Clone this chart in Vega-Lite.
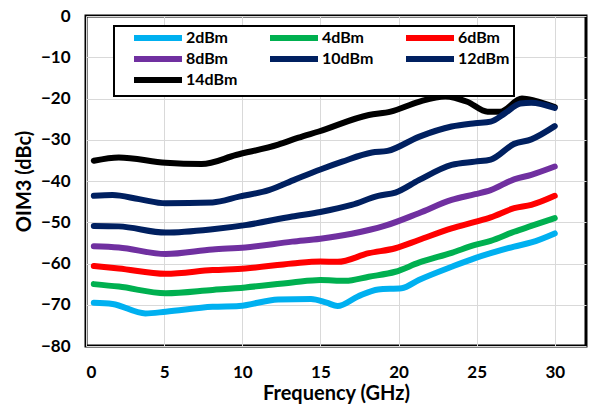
{
  "$schema": "https://vega.github.io/schema/vega-lite/v6.json",
  "width": 500,
  "height": 330,
  "autosize": "none",
  "padding": {"left": 86, "top": 16, "right": 3, "bottom": 64},
  "background": "white",
  "config": {
    "view": {"stroke": "black", "strokeWidth": 3},
    "font": "Lato",
    "axis": {"labelFont": "Lato", "labelFontWeight": "bold", "labelFontSize": 17, "labelColor": "black", "titleFont": "Lato", "titleFontWeight": "bold", "titleFontSize": 20, "titleColor": "black", "gridColor": "#d9d9d9", "gridWidth": 1, "domain": false},
    "legend": {"strokeWidth": 2}
  },
  "data": {"values": [
    {"s": "14dBm", "f": 0.5, "v": -35.1}, {"s": "14dBm", "f": 2.1, "v": -34.3}, {"s": "14dBm", "f": 5.1, "v": -35.6}, {"s": "14dBm", "f": 7.4, "v": -35.9}, {"s": "14dBm", "f": 9.6, "v": -33.7}, {"s": "14dBm", "f": 12.3, "v": -31.2}, {"s": "14dBm", "f": 13.6, "v": -29.5}, {"s": "14dBm", "f": 14.9, "v": -28.0}, {"s": "14dBm", "f": 18.1, "v": -24.0}, {"s": "14dBm", "f": 19.5, "v": -23.2}, {"s": "14dBm", "f": 21.3, "v": -20.8}, {"s": "14dBm", "f": 23.0, "v": -19.5}, {"s": "14dBm", "f": 24.4, "v": -20.8}, {"s": "14dBm", "f": 25.7, "v": -23.2}, {"s": "14dBm", "f": 26.5, "v": -23.2}, {"s": "14dBm", "f": 27.9, "v": -20.0}, {"s": "14dBm", "f": 28.7, "v": -20.5}, {"s": "14dBm", "f": 30.0, "v": -22.1},
    {"s": "12dBm", "f": 0.5, "v": -43.6}, {"s": "12dBm", "f": 1.7, "v": -43.4}, {"s": "12dBm", "f": 3.4, "v": -44.4}, {"s": "12dBm", "f": 5.1, "v": -45.4}, {"s": "12dBm", "f": 8.1, "v": -45.2}, {"s": "12dBm", "f": 9.8, "v": -43.8}, {"s": "12dBm", "f": 11.7, "v": -42.2}, {"s": "12dBm", "f": 13.4, "v": -39.6}, {"s": "12dBm", "f": 15.0, "v": -37.2}, {"s": "12dBm", "f": 16.4, "v": -35.3}, {"s": "12dBm", "f": 18.3, "v": -33.1}, {"s": "12dBm", "f": 19.3, "v": -32.7}, {"s": "12dBm", "f": 21.3, "v": -29.3}, {"s": "12dBm", "f": 23.4, "v": -26.8}, {"s": "12dBm", "f": 24.9, "v": -26.0}, {"s": "12dBm", "f": 25.9, "v": -25.6}, {"s": "12dBm", "f": 26.8, "v": -23.6}, {"s": "12dBm", "f": 27.8, "v": -21.2}, {"s": "12dBm", "f": 28.5, "v": -21.0}, {"s": "12dBm", "f": 30.0, "v": -22.3},
    {"s": "10dBm", "f": 0.5, "v": -50.9}, {"s": "10dBm", "f": 2.1, "v": -51.0}, {"s": "10dBm", "f": 5.1, "v": -52.5}, {"s": "10dBm", "f": 8.1, "v": -51.7}, {"s": "10dBm", "f": 10.2, "v": -50.7}, {"s": "10dBm", "f": 13.2, "v": -48.6}, {"s": "10dBm", "f": 15.0, "v": -47.5}, {"s": "10dBm", "f": 17.0, "v": -45.8}, {"s": "10dBm", "f": 18.7, "v": -43.6}, {"s": "10dBm", "f": 19.8, "v": -42.8}, {"s": "10dBm", "f": 21.3, "v": -39.8}, {"s": "10dBm", "f": 23.4, "v": -36.1}, {"s": "10dBm", "f": 24.9, "v": -35.3}, {"s": "10dBm", "f": 25.9, "v": -34.8}, {"s": "10dBm", "f": 27.4, "v": -31.0}, {"s": "10dBm", "f": 28.5, "v": -29.9}, {"s": "10dBm", "f": 30.0, "v": -26.7},
    {"s": "8dBm", "f": 0.5, "v": -55.8}, {"s": "8dBm", "f": 2.1, "v": -56.1}, {"s": "8dBm", "f": 5.1, "v": -57.7}, {"s": "8dBm", "f": 8.1, "v": -56.6}, {"s": "8dBm", "f": 10.2, "v": -56.1}, {"s": "8dBm", "f": 13.2, "v": -54.7}, {"s": "8dBm", "f": 15.0, "v": -54.0}, {"s": "8dBm", "f": 17.0, "v": -52.8}, {"s": "8dBm", "f": 19.1, "v": -50.9}, {"s": "8dBm", "f": 21.3, "v": -47.8}, {"s": "8dBm", "f": 23.4, "v": -44.6}, {"s": "8dBm", "f": 24.9, "v": -43.2}, {"s": "8dBm", "f": 25.9, "v": -42.2}, {"s": "8dBm", "f": 27.4, "v": -39.6}, {"s": "8dBm", "f": 28.5, "v": -38.5}, {"s": "8dBm", "f": 30.0, "v": -36.5},
    {"s": "6dBm", "f": 0.5, "v": -60.6}, {"s": "6dBm", "f": 2.1, "v": -61.2}, {"s": "6dBm", "f": 5.1, "v": -62.5}, {"s": "6dBm", "f": 8.1, "v": -61.6}, {"s": "6dBm", "f": 10.2, "v": -61.2}, {"s": "6dBm", "f": 13.2, "v": -60.0}, {"s": "6dBm", "f": 15.0, "v": -59.5}, {"s": "6dBm", "f": 16.1, "v": -59.6}, {"s": "6dBm", "f": 18.1, "v": -57.5}, {"s": "6dBm", "f": 19.8, "v": -56.3}, {"s": "6dBm", "f": 21.3, "v": -54.3}, {"s": "6dBm", "f": 23.4, "v": -51.5}, {"s": "6dBm", "f": 24.9, "v": -49.9}, {"s": "6dBm", "f": 25.9, "v": -48.8}, {"s": "6dBm", "f": 27.4, "v": -46.6}, {"s": "6dBm", "f": 28.5, "v": -45.8}, {"s": "6dBm", "f": 30.0, "v": -43.6},
    {"s": "4dBm", "f": 0.5, "v": -65.0}, {"s": "4dBm", "f": 2.1, "v": -65.6}, {"s": "4dBm", "f": 5.1, "v": -67.2}, {"s": "4dBm", "f": 8.1, "v": -66.4}, {"s": "4dBm", "f": 10.2, "v": -65.8}, {"s": "4dBm", "f": 13.2, "v": -64.6}, {"s": "4dBm", "f": 15.0, "v": -64.0}, {"s": "4dBm", "f": 16.6, "v": -64.2}, {"s": "4dBm", "f": 18.1, "v": -63.2}, {"s": "4dBm", "f": 19.8, "v": -62.0}, {"s": "4dBm", "f": 21.3, "v": -59.8}, {"s": "4dBm", "f": 23.4, "v": -57.4}, {"s": "4dBm", "f": 24.9, "v": -55.5}, {"s": "4dBm", "f": 25.9, "v": -54.5}, {"s": "4dBm", "f": 27.4, "v": -52.3}, {"s": "4dBm", "f": 28.5, "v": -50.9}, {"s": "4dBm", "f": 30.0, "v": -49.0},
    {"s": "2dBm", "f": 0.5, "v": -69.5}, {"s": "2dBm", "f": 1.7, "v": -69.8}, {"s": "2dBm", "f": 3.8, "v": -72.1}, {"s": "2dBm", "f": 5.1, "v": -71.7}, {"s": "2dBm", "f": 8.1, "v": -70.5}, {"s": "2dBm", "f": 9.8, "v": -70.3}, {"s": "2dBm", "f": 12.3, "v": -68.7}, {"s": "2dBm", "f": 14.4, "v": -68.6}, {"s": "2dBm", "f": 15.4, "v": -69.5}, {"s": "2dBm", "f": 16.1, "v": -70.3}, {"s": "2dBm", "f": 17.4, "v": -68.0}, {"s": "2dBm", "f": 18.7, "v": -66.3}, {"s": "2dBm", "f": 20.2, "v": -66.0}, {"s": "2dBm", "f": 21.3, "v": -64.0}, {"s": "2dBm", "f": 23.4, "v": -60.8}, {"s": "2dBm", "f": 24.9, "v": -58.7}, {"s": "2dBm", "f": 25.9, "v": -57.5}, {"s": "2dBm", "f": 27.4, "v": -55.9}, {"s": "2dBm", "f": 28.5, "v": -54.9}, {"s": "2dBm", "f": 30.0, "v": -52.7}
  ]},
  "mark": {"type": "line", "interpolate": "monotone", "strokeWidth": 6, "strokeCap": "round", "strokeJoin": "round"},
  "encoding": {
    "x": {"field": "f", "type": "quantitative", "title": "Frequency (GHz)", "scale": {"domain": [0, 32], "nice": false, "zero": false},
      "axis": {"values": [0, 5, 10, 15, 20, 25, 30], "ticks": false, "labelPadding": 18, "titlePadding": 3}},
    "y": {"field": "v", "type": "quantitative", "title": "OIM3 (dBc)", "scale": {"domain": [-80, 0], "nice": false},
      "axis": {"values": [-80, -70, -60, -50, -40, -30, -20, -10, 0], "ticks": false, "labelPadding": 16, "titlePadding": 6}},
    "color": {"field": "s", "type": "nominal", "sort": ["2dBm", "4dBm", "6dBm", "8dBm", "10dBm", "12dBm", "14dBm"],
      "scale": {"domain": ["2dBm", "4dBm", "6dBm", "8dBm", "10dBm", "12dBm", "14dBm"], "range": ["#00B0F0", "#00B050", "#FF0000", "#7030A0", "#002060", "#002060", "#000000"]},
      "legend": {"title": null, "orient": "none", "legendX": 28, "legendY": 10, "columns": 3, "direction": "horizontal", "symbolType": "M0,0H12", "symbolStrokeWidth": 6, "symbolSize": 64, "symbolOffset": 8, "labelFont": "Lato", "labelFontWeight": "bold", "labelFontSize": 16, "labelColor": "black", "labelOffset": 44, "fillColor": "white", "strokeColor": "black", "padding": 4, "columnPadding": 16, "rowPadding": -3, "gridAlign": "all", "zindex": 1}},
    "order": {"field": "f", "type": "quantitative"}
  }
}
